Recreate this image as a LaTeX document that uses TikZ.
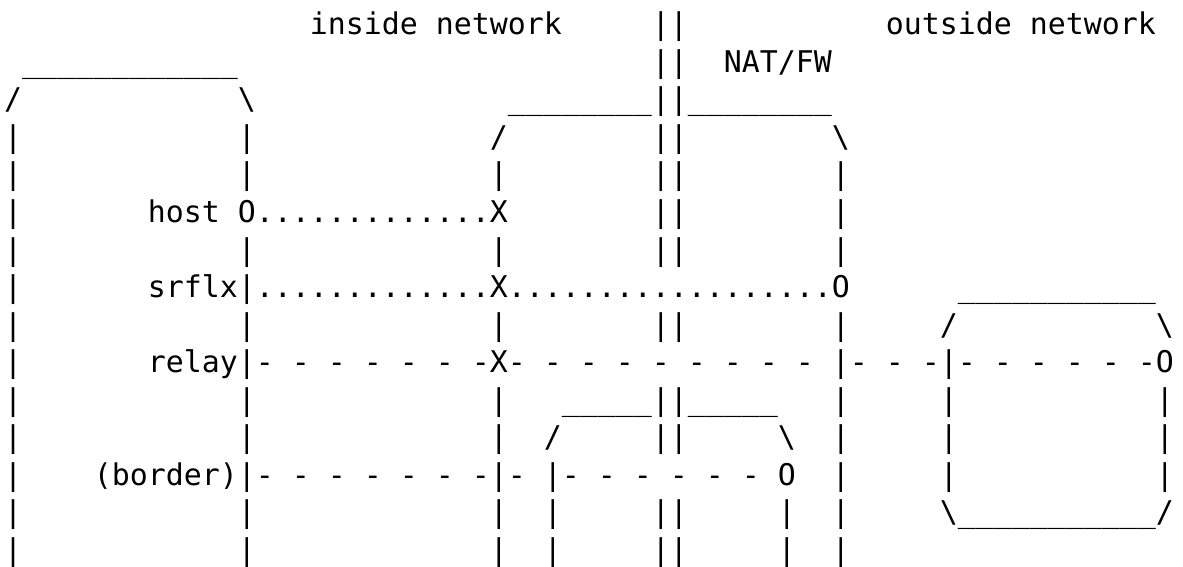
\documentclass[tikz,border=0pt]{standalone}
\usepackage{fontspec}
\setmonofont{DejaVu Sans Mono}
\newlength\cw
\setlength\cw{13.5pt}
\newcommand\colsp[1]{\hspace*{#1\cw}}
\ExplSyntaxOn
\cs_new:Npn \chrep #1#2 { \prg_replicate:nn {#1} {#2} }
\ExplSyntaxOff
\tikzset{
  asciirow/.style={anchor=base west, inner sep=0pt, outer sep=0pt,
    font=\ttfamily\fontsize{22.42pt}{28pt}\selectfont\frenchspacing},
}
\begin{document}
\begin{tikzpicture}[x=0.75pt, y=-0.75pt]
  \fill[white] (0,0) rectangle (1183,567);
  \useasboundingbox (0,0) rectangle (1183,567);
  % one node per text line, 37.5px line pitch
  \node[asciirow] (row0)  at (4, 35.0) {\colsp{17}inside network\colsp{5}||\colsp{11}outside network};
  \node[asciirow] (row1)  at (4, 72.5) {\colsp{1}\chrep{12}{\_}\colsp{23}||\colsp{2}NAT/FW};
  \node[asciirow] (row2)  at (4,110.0) {/\colsp{12}\textbackslash\colsp{14}\chrep{8}{\_}||\chrep{8}{\_}};
  \node[asciirow] (row3)  at (4,147.5) {|\colsp{12}|\colsp{13}/\colsp{8}||\colsp{8}\textbackslash};
  \node[asciirow] (row4)  at (4,185.0) {|\colsp{12}|\colsp{13}|\colsp{8}||\colsp{8}|};
  \node[asciirow] (row5)  at (4,222.5) {|\colsp{7}host O\chrep{13}{.}X\colsp{8}||\colsp{8}|};
  \node[asciirow] (row6)  at (4,260.0) {|\colsp{12}|\colsp{13}|\colsp{8}||\colsp{8}|};
  \node[asciirow] (row7)  at (4,297.5) {|\colsp{7}srflx|\chrep{13}{.}X\chrep{18}{.}O\colsp{6}\chrep{11}{\_}};
  \node[asciirow] (row8)  at (4,335.0) {|\colsp{12}|\colsp{13}|\colsp{8}||\colsp{8}|\colsp{5}/\colsp{11}\textbackslash};
  \node[asciirow] (row9)  at (4,372.5) {|\colsp{7}relay|\chrep{6}{-\colsp{1}}-X\chrep{9}{-\colsp{1}}|\chrep{2}{-\colsp{1}}-|\chrep{5}{-\colsp{1}}-O};
  \node[asciirow] (row10) at (4,410.0) {|\colsp{12}|\colsp{13}|\colsp{3}\chrep{5}{\_}||\chrep{5}{\_}\colsp{3}|\colsp{5}|\colsp{11}|};
  \node[asciirow] (row11) at (4,447.5) {|\colsp{12}|\colsp{13}|\colsp{2}/\colsp{5}||\colsp{5}\textbackslash\colsp{2}|\colsp{5}|\colsp{11}|};
  \node[asciirow] (row12) at (4,485.0) {|\colsp{4}(border)|\chrep{6}{-\colsp{1}}-|-\colsp{1}|\chrep{6}{-\colsp{1}}O\colsp{2}|\colsp{5}|\colsp{11}|};
  \node[asciirow] (row13) at (4,522.5) {|\colsp{12}|\colsp{13}|\colsp{2}|\colsp{5}||\colsp{5}|\colsp{2}|\colsp{5}\textbackslash\chrep{11}{\_}/};
  \node[asciirow] (row14) at (4,560.0) {|\colsp{12}|\colsp{13}|\colsp{2}|\colsp{5}||\colsp{5}|\colsp{2}|};
\end{tikzpicture}
\end{document}
